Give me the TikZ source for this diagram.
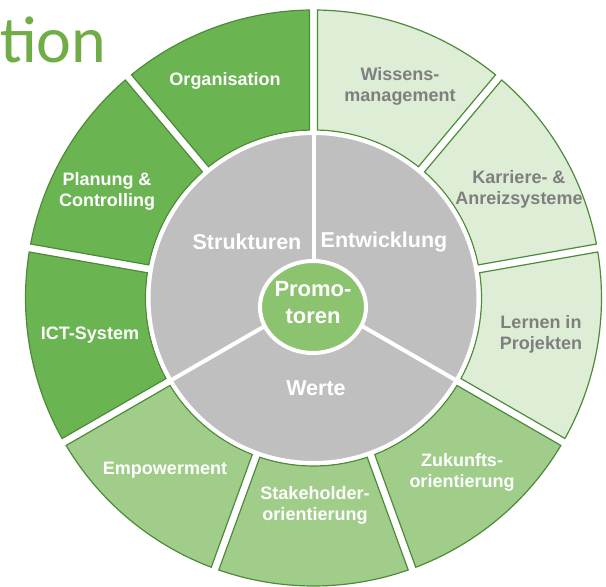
\documentclass[tikz,border=0pt]{standalone}
\usepackage{fontspec}
\setmainfont{Liberation Sans}
\newfontfamily\titlefont{Carlito}
\definecolor{dkgreen}{HTML}{6AB451}
\definecolor{mdgreen}{HTML}{A0CD89}
\definecolor{ltgreen}{HTML}{DEEDD5}
\definecolor{edgegreen}{HTML}{4E8B38}
\definecolor{diskgray}{HTML}{BFBFBF}
\definecolor{coregreen}{HTML}{8CC36E}
\definecolor{labelgray}{HTML}{7F7F7F}
\definecolor{titlegreen}{HTML}{70AD47}
\tikzset{
  darkseg/.style={fill=dkgreen, draw=edgegreen, line width=1.2pt},
  midseg/.style={fill=mdgreen, draw=edgegreen, line width=1.2pt},
  lightseg/.style={fill=ltgreen, draw=edgegreen, line width=1.2pt},
  seglabel/.style={font=\bfseries\fontsize{18}{21}\selectfont, text=white, align=center, inner sep=0pt},
  seglabelgray/.style={seglabel, text=labelgray},
  grouplabel/.style={font=\bfseries\fontsize{21.5}{25}\selectfont, text=white, align=center, inner sep=0pt},
  corelabel/.style={font=\bfseries\fontsize{22}{27}\selectfont, text=white, align=center, inner sep=0pt},
  divider/.style={white, line width=4pt}
}
\newcommand\ringseg[3]{%
  \pgfmathsetmacro\aOa{#1+0.8}\pgfmathsetmacro\aOb{#2-0.8}%
  \pgfmathsetmacro\aIa{#1+1.36}\pgfmathsetmacro\aIb{#2-1.36}%
  \path[#3] ([shift={(\aOa:288pt)}]C) arc[start angle=\aOa, end angle=\aOb, radius=288pt]
    -- ([shift={(\aIb:168pt)}]C) arc[start angle=\aIb, end angle=\aIa, radius=168pt] -- cycle;}
\begin{document}
\begin{tikzpicture}[x=1pt,y=1pt]
\useasboundingbox (0,0) rectangle (606,587);
\coordinate (C) at (313.5,289);

\node[anchor=base west, inner sep=0pt, text=titlegreen, font=\titlefont\fontsize{66}{66}\selectfont] (title) at (0,524) {tion};

% outer ring segments
\ringseg{90}{130}{darkseg}
\ringseg{130}{170}{darkseg}
\ringseg{170}{210}{darkseg}
\ringseg{210}{250}{midseg}
\ringseg{250}{290}{midseg}
\ringseg{290}{330}{midseg}
\ringseg{330}{370}{lightseg}
\ringseg{10}{50}{lightseg}
\ringseg{50}{90}{lightseg}

% inner gray disc
\fill[diskgray] (C) circle (165pt);
\draw[divider] (C) circle (165pt);
\coordinate (d1) at ([shift={(90:165pt)}]C);
\coordinate (d2) at ([shift={(210:165pt)}]C);
\coordinate (d3) at ([shift={(330:165pt)}]C);
\draw[divider] (C) -- (d1);
\draw[divider] (C) -- (d2);
\draw[divider] (C) -- (d3);

% core
\draw[divider, fill=coregreen] (313,280) ellipse [x radius=53pt, y radius=46pt];
\node[corelabel] (core) at (313,284) {Promo-\\toren};

% group labels
\node[grouplabel] (strukturen) at (247,345) {Strukturen};
\node[grouplabel] (entwicklung) at (384,345) {Entwicklung};
\node[grouplabel] (werte) at (316,199) {Werte};

% segment labels
\node[seglabel] (organisation) at (225,506) {Organisation};
\node[seglabel] (planung) at (107,396) {Planung \&\\Controlling};
\node[seglabel] (ict) at (90,252) {ICT-System};
\node[seglabel] (empowerment) at (165,117) {Empowerment};
\node[seglabel] (stakeholder) at (315,82) {Stakeholder-\\orientierung};
\node[seglabel] (zukunft) at (462,115) {Zukunfts-\\orientierung};
\node[seglabelgray] (lernen) at (541,253) {Lernen in\\Projekten};
\node[seglabelgray] (karriere) at (519,398) {Karriere- \&\\Anreizsysteme};
\node[seglabelgray] (wissen) at (400,501) {Wissens-\\management};
\end{tikzpicture}
\end{document}
